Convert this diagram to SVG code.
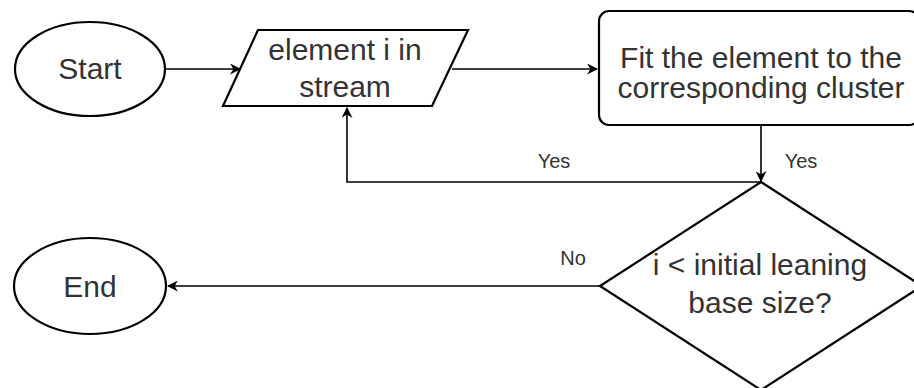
<svg xmlns="http://www.w3.org/2000/svg" width="914" height="388" viewBox="0 0 914 388">
<style>
.shape{fill:#fff;stroke:#000;stroke-width:2.2}
.t{font-family:"Liberation Sans",Arial,sans-serif;font-size:30px;fill:#333;text-anchor:middle}
.lbl{font-family:"Liberation Sans",Arial,sans-serif;font-size:20px;fill:#333;text-anchor:middle}
.c{fill:none;stroke:#000;stroke-width:1.6}
</style>
<defs>
<marker id="arr" viewBox="0 0 10 10" refX="9" refY="5" markerWidth="11" markerHeight="11" markerUnits="userSpaceOnUse" orient="auto">
<path d="M0,0 L10,5 L0,10 L3,5 Z" fill="#000"/>
</marker>
</defs>
<rect width="914" height="388" fill="#fff"/>
<g id="connectors">
<line class="c" x1="166" y1="69" x2="240" y2="69" marker-end="url(#arr)"/>
<line class="c" x1="452" y1="69" x2="597" y2="69" marker-end="url(#arr)"/>
<line class="c" x1="761" y1="125" x2="761" y2="181" marker-end="url(#arr)"/>
<polyline class="c" points="761,182 347,182 347,108" marker-end="url(#arr)"/>
<line class="c" x1="600" y1="286" x2="168" y2="286" marker-end="url(#arr)"/>
<text class="lbl" x="554" y="168">Yes</text>
<text class="lbl" x="801" y="168">Yes</text>
<text class="lbl" x="573" y="265">No</text>
</g>
<g id="start">
<ellipse class="shape" cx="90" cy="69" rx="75" ry="47"/>
<text class="t" x="90" y="79">Start</text>
</g>
<g id="input">
<polygon class="shape" points="258,30 468,30 432,106 223,106"/>
<text class="t" x="345" y="60">element i in</text>
<text class="t" x="345" y="97">stream</text>
</g>
<g id="fit">
<rect class="shape" x="599" y="11" width="320" height="114" rx="10"/>
<text class="t" x="761" y="68">Fit the element to the</text>
<text class="t" x="761" y="98">corresponding cluster</text>
</g>
<g id="decision">
<polygon class="shape" points="761,182 922,286 761,390 600,286"/>
<text class="t" x="760" y="275">i &lt; initial leaning</text>
<text class="t" x="760" y="313">base size?</text>
</g>
<g id="end">
<ellipse class="shape" cx="90" cy="286" rx="76" ry="48"/>
<text class="t" x="90" y="297">End</text>
</g>
</svg>
